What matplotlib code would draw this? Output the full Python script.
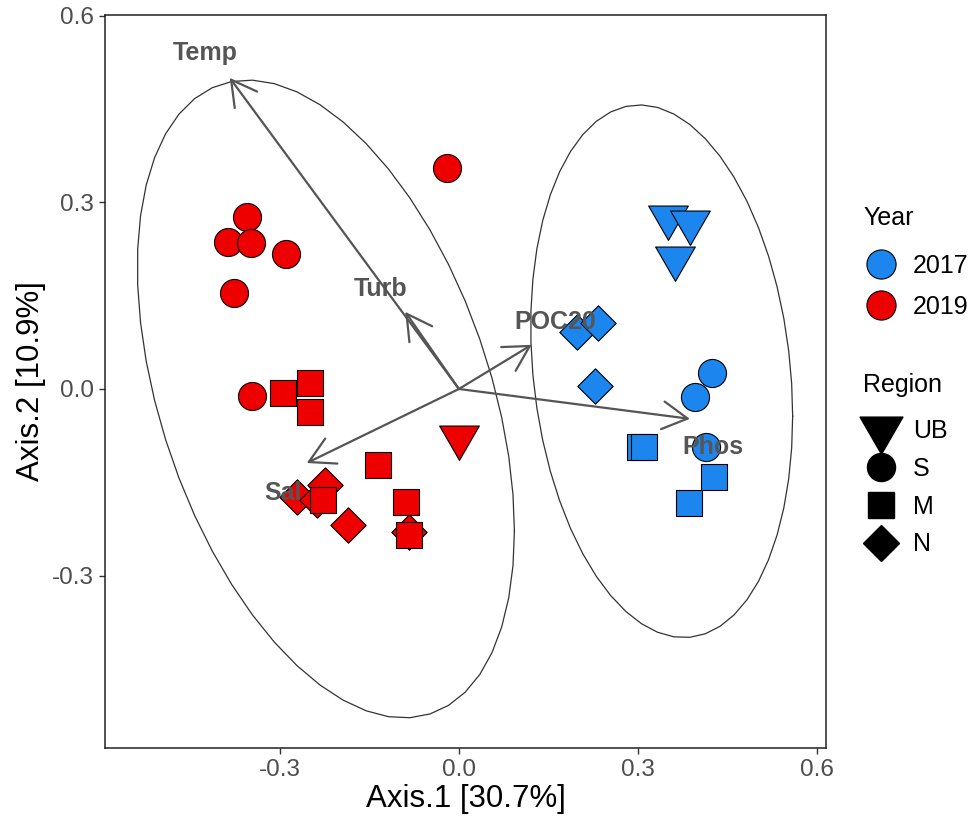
import numpy as np
import matplotlib.pyplot as plt
from matplotlib.lines import Line2D

plt.rcParams['font.family'] = ['Liberation Sans', 'DejaVu Sans']
plt.rcParams['axes.unicode_minus'] = False

# ---------------------------------------------------------------------------
# Datos
# ---------------------------------------------------------------------------
blue_ub_x = [0.350, 0.387, 0.362]
blue_ub_y = [0.277, 0.269, 0.211]
blue_n_x = [0.198, 0.233, 0.228]
blue_n_y = [0.092, 0.106, 0.005]
blue_s_x = [0.424, 0.395, 0.414]
blue_s_y = [0.026, -0.013, -0.093]
blue_m_x = [0.303, 0.310, 0.427, 0.385]
blue_m_y = [-0.093, -0.093, -0.141, -0.183]

red_s_x = [-0.020, -0.355, -0.387, -0.348, -0.290, -0.377, -0.347]
red_s_y = [0.355, 0.277, 0.236, 0.235, 0.217, 0.154, -0.011]
red_n_x = [-0.271, -0.238, -0.224, -0.186, -0.084]
red_n_y = [-0.174, -0.179, -0.154, -0.219, -0.230]
red_m_x = [-0.295, -0.250, -0.250, -0.136, -0.089, -0.084, -0.228]
red_m_y = [-0.007, 0.009, -0.037, -0.122, -0.181, -0.235, -0.179]
red_ub_x = [0.000]
red_ub_y = [-0.077]

years = ['2017', '2019']
regions = ['UB', 'S', 'M', 'N']

# vectores ambientales
env_names = ['Temp', 'Turb', 'POC20', 'Phos', 'Sal']
env_x = [-0.384, -0.090, 0.122, 0.387, -0.255]
env_y = [0.500, 0.124, 0.071, -0.048, -0.119]
env_lab_x = [-0.425, -0.132, 0.162, 0.425, -0.295]
env_lab_y = [0.540, 0.161, 0.108, -0.093, -0.167]

# ---------------------------------------------------------------------------
# Estilos
# ---------------------------------------------------------------------------
year_colors = {'2017': '#1C86EE', '2019': '#EE0000'}
tri_down = [(0.0, -1.0), (0.866, 0.5), (-0.866, 0.5), (0.0, -1.0)]
region_markers = {'UB': tri_down, 'S': 'o', 'M': 's', 'N': 'D'}
region_ms = {'UB': 33.0, 'S': 20.2, 'M': 19.2, 'N': 18.0}


def qf95(dfd):
    # cuantil 0.95 de F(2, dfd), forma cerrada
    return dfd / 2.0 * (0.05 ** (-2.0 / dfd) - 1.0)


def ellipse_norm(x, y, segments=51):
    """Elipse del 95% como stat_ellipse(type='norm')."""
    data = np.column_stack([x, y])
    n = len(data)
    loc = data.mean(axis=0)
    cov = np.cov(data.T)
    radius = np.sqrt(2 * qf95(n - 1))
    ang = np.arange(segments + 1) * 2 * np.pi / segments
    circ = np.column_stack([np.cos(ang), np.sin(ang)])
    ell = loc + radius * circ @ np.linalg.cholesky(cov).T
    return ell[:, 0], ell[:, 1]


fig = plt.figure(figsize=(9.78, 8.27), dpi=100)
ax = fig.add_axes([105 / 978, 1 - 748 / 827, 721 / 978, 733 / 827])

groups = [
    ('2017', 'UB', blue_ub_x, blue_ub_y),
    ('2017', 'N', blue_n_x, blue_n_y),
    ('2017', 'S', blue_s_x, blue_s_y),
    ('2017', 'M', blue_m_x, blue_m_y),
    ('2019', 'S', red_s_x, red_s_y),
    ('2019', 'N', red_n_x, red_n_y),
    ('2019', 'M', red_m_x, red_m_y),
    ('2019', 'UB', red_ub_x, red_ub_y),
]

for yr, reg, gx, gy in groups:
    ax.scatter(gx, gy, s=region_ms[reg] ** 2, marker=region_markers[reg],
               facecolor=year_colors[yr], edgecolor='black', linewidth=0.8, zorder=3)

# elipses por año
for yr in years:
    ex = np.concatenate([g[2] for g in groups if g[0] == yr])
    ey = np.concatenate([g[3] for g in groups if g[0] == yr])
    xe, ye = ellipse_norm(ex, ey)
    ax.plot(xe, ye, color='#333333', lw=0.9, zorder=4)

# flechas
for name, x1, y1, lx, ly in zip(env_names, env_x, env_y, env_lab_x, env_lab_y):
    ax.annotate('', xy=(x1, y1), xytext=(0, 0),
                arrowprops=dict(arrowstyle='->,head_length=0.9,head_width=0.5',
                                color='#555555', lw=1.6, shrinkA=0, shrinkB=0,
                                mutation_scale=20), zorder=5)
    ax.text(lx, ly, name, ha='center', va='center', fontsize=18, fontweight='bold',
            color='#555555', zorder=6)

ax.set_xlim(-0.593, 0.615)
ax.set_ylim(-0.577, 0.601)
ax.set_xticks([-0.3, 0.0, 0.3, 0.6])
ax.set_yticks([-0.3, 0.0, 0.3, 0.6])
ax.set_xticklabels(['-0.3', '0.0', '0.3', '0.6'])
ax.set_yticklabels(['-0.3', '0.0', '0.3', '0.6'])
ax.tick_params(direction='out', length=4, width=1, color='#333333',
               labelcolor='#4D4D4D', labelsize=17.5, pad=4)
for sp in ax.spines.values():
    sp.set_color('#222222')
    sp.set_linewidth(1.1)
ax.set_xlabel('Axis.1 [30.7%]', fontsize=22.5, labelpad=2)
ax.set_ylabel('Axis.2 [10.9%]', fontsize=22.5, labelpad=4)

# leyendas
fig.text(863 / 978, 1 - 218 / 827, 'Year', fontsize=18, ha='left', va='center')
fig.text(863 / 978, 1 - 385 / 827, 'Region', fontsize=18, ha='left', va='center')

year_handles = [Line2D([], [], ls='', marker='o', markersize=21,
                       markerfacecolor=year_colors[yr], markeredgecolor='black',
                       markeredgewidth=0.8) for yr in years]
fig.legend(year_handles, years, loc='upper left',
           bbox_to_anchor=(863.5 / 978, 1 - 254 / 827), frameon=False,
           fontsize=18, borderpad=0, handlelength=1.4, handletextpad=0.58,
           labelspacing=0.67, borderaxespad=0)

region_handles = [Line2D([], [], ls='', marker=region_markers[r],
                         markersize=region_ms[r] * (1.08 if r == 'UB' else 1.0),
                         color='black') for r in regions]
fig.legend(region_handles, regions, loc='upper left',
           bbox_to_anchor=(863.5 / 978, 1 - 419 / 827), frameon=False,
           fontsize=18, borderpad=0, handlelength=1.4, handletextpad=0.58,
           labelspacing=0.55, borderaxespad=0)

fig.savefig('out.png', dpi=100)
